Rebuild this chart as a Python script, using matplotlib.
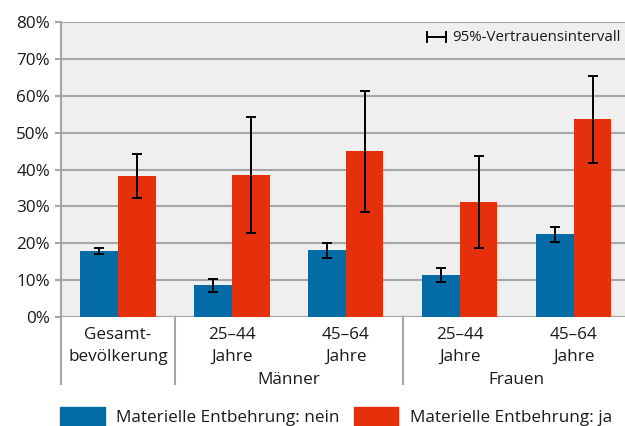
import matplotlib
matplotlib.use("Agg")
import matplotlib.pyplot as plt
import numpy as np
from matplotlib.lines import Line2D
from matplotlib.patches import Rectangle

categories = ["Gesamt-\nbevölkerung", "25–44\nJahre", "45–64\nJahre", "25–44\nJahre", "45–64\nJahre"]
groups = ["Männer", "Frauen"]
series_names = ["Materielle Entbehrung: nein", "Materielle Entbehrung: ja"]
nein = [18.0, 8.6, 18.1, 11.3, 22.5]
nein_lo = [17.1, 6.9, 16.0, 9.6, 20.4]
nein_hi = [18.8, 10.2, 20.1, 13.2, 24.4]
ja = [38.2, 38.5, 45.0, 31.2, 53.7]
ja_lo = [32.3, 22.7, 28.5, 18.7, 41.8]
ja_hi = [44.2, 54.3, 61.4, 43.7, 65.3]
yticks = [0, 10, 20, 30, 40, 50, 60, 70, 80]

plt.rcParams['font.family'] = ['Open Sans', 'DejaVu Sans']
BLUE = "#036BA6"
RED = "#E5300B"
GRID = "#A6A6A6"
TXT = "#1a1a1a"
FS = 12.3

fig = plt.figure(figsize=(6.25, 4.26), dpi=100)
ax = fig.add_axes([61/625, 109/426, 1 - 61/625, 295/426])
ax.set_facecolor("#EFEFEF")

x = np.arange(len(categories))
w = 0.33
nein_a = np.array(nein); ja_a = np.array(ja)
ax.bar(x - w/2, nein, w, color=BLUE, zorder=3)
ax.bar(x + w/2, ja, w, color=RED, zorder=3)
ax.errorbar(x - w/2, nein, yerr=[nein_a - np.array(nein_lo), np.array(nein_hi) - nein_a],
            fmt="none", ecolor="black", elinewidth=1.4, capsize=3.8, capthick=1.4, zorder=4)
ax.errorbar(x + w/2, ja, yerr=[ja_a - np.array(ja_lo), np.array(ja_hi) - ja_a],
            fmt="none", ecolor="black", elinewidth=1.4, capsize=3.8, capthick=1.4, zorder=4)

ax.set_ylim(0, 80)
ax.set_xlim(-0.5, 4.45)
ax.set_yticks(yticks)
ax.set_yticklabels([f"{v}%" for v in yticks], fontsize=FS, color=TXT)
ax.yaxis.grid(True, color=GRID, linewidth=1.5, zorder=1)
ax.set_xticks([])
ax.tick_params(axis="y", length=4, width=1.5, color=GRID, pad=4)
for s in ["top", "right", "bottom"]:
    ax.spines[s].set_visible(False)
ax.spines["left"].set_color(GRID)
ax.spines["left"].set_linewidth(1.5)
ax.axhline(0, color=GRID, linewidth=1.5, zorder=2)

def fy(py):
    return (317 - py) / 295.0

def fx(px):
    return (px - 61) / 564.0

trans = ax.get_xaxis_transform()
for i, lab in enumerate(categories):
    top, bot = lab.split("\n")
    ax.text(x[i], fy(335), top, transform=trans, ha="center", va="center",
            fontsize=FS, color=TXT, clip_on=False)
    ax.text(x[i], fy(357), bot, transform=trans, ha="center", va="center",
            fontsize=FS, color=TXT, clip_on=False)
ax.text(1.5, fy(380), groups[0], transform=trans, ha="center", va="center", fontsize=FS, color=TXT, clip_on=False)
ax.text(3.5, fy(380), groups[1], transform=trans, ha="center", va="center", fontsize=FS, color=TXT, clip_on=False)

for sx in [-0.5, 0.5, 2.5]:
    ax.add_line(Line2D([sx, sx], [0, fy(384)], transform=trans, color=GRID, linewidth=1.5, clip_on=False))

# CI legend at top right
at = ax.transAxes
ax.add_line(Line2D([fx(427), fx(446)], [fy(37), fy(37)], transform=at, color="black", lw=1.4, clip_on=False, zorder=5))
for cx in [427, 446]:
    ax.add_line(Line2D([fx(cx), fx(cx)], [fy(32), fy(42)], transform=at, color="black", lw=1.4, clip_on=False, zorder=5))
ax.text(fx(452), fy(37), "95%-Vertrauensintervall", transform=at, ha="left", va="center", fontsize=10.8, color=TXT)

# Bottom legend
fig.patches.append(Rectangle((60/625, 0), 45/625, 19/426, transform=fig.transFigure, color=BLUE))
fig.text(116/625, 8/426, series_names[0], ha="left", va="center", fontsize=FS, color=TXT)
fig.patches.append(Rectangle((354/625, 0), 44/625, 19/426, transform=fig.transFigure, color=RED))
fig.text(410/625, 8/426, series_names[1], ha="left", va="center", fontsize=FS, color=TXT)

fig.savefig("out.png", dpi=100)
